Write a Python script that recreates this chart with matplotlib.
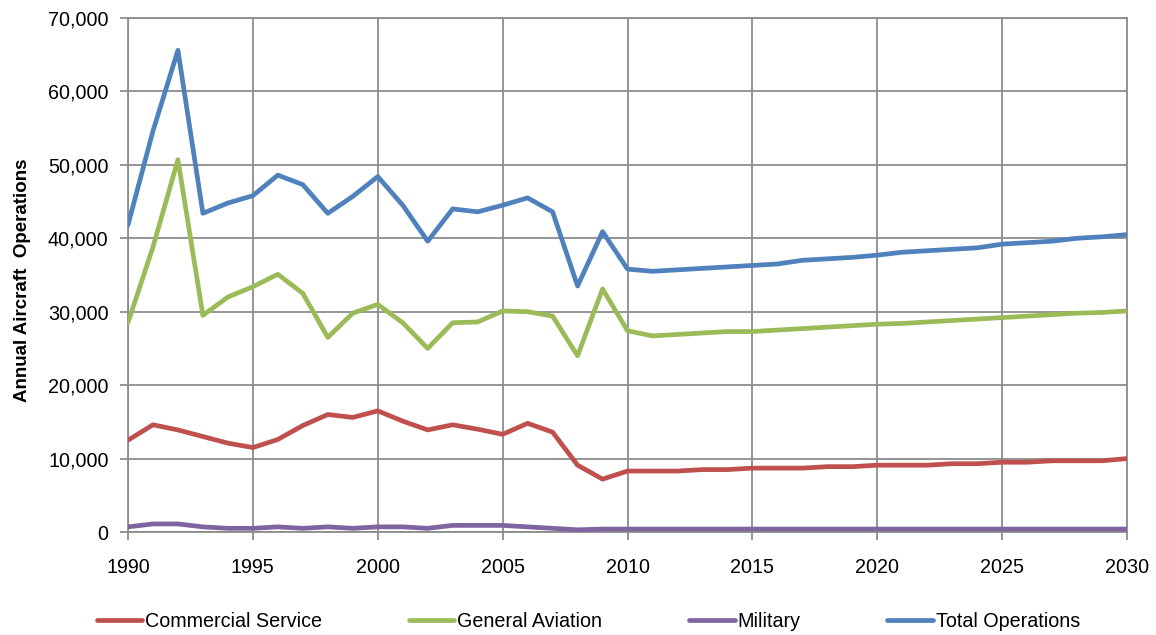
import matplotlib.pyplot as plt
from matplotlib.ticker import FuncFormatter, MultipleLocator

plt.rcParams['font.family'] = ['Liberation Sans', 'DejaVu Sans']

# annual operations, 1990-2030
years = list(range(1990, 2031))

commercial = [12500, 14600, 13900, 13000, 12100, 11500, 12600, 14500, 16000, 15600,
              16500, 15100, 13900, 14600, 14000, 13300, 14800, 13600, 9100, 7200,
              8300, 8300, 8300, 8500, 8500, 8700, 8700, 8700, 8900, 8900,
              9100, 9100, 9100, 9300, 9300, 9500, 9500, 9700, 9700, 9700, 10000]

general_aviation = [28500, 38800, 50700, 29500, 32000, 33400, 35100, 32500, 26500, 29800,
                    31000, 28500, 25000, 28500, 28600, 30100, 30000, 29400, 24000, 33100,
                    27400, 26700, 26900, 27100, 27300, 27300, 27500, 27700, 27900, 28100,
                    28300, 28400, 28600, 28800, 29000, 29200, 29400, 29600, 29800, 29900, 30100]

military = [700, 1100, 1100, 700, 500, 500, 700, 500, 700, 500,
            700, 700, 500, 900, 900, 900, 700, 500, 300, 400,
            400, 400, 400, 400, 400, 400, 400, 400, 400, 400,
            400, 400, 400, 400, 400, 400, 400, 400, 400, 400, 400]

total = [41800, 54600, 65600, 43400, 44800, 45800, 48600, 47300, 43400, 45700,
         48400, 44500, 39600, 44000, 43600, 44500, 45500, 43600, 33500, 40900,
         35800, 35500, 35700, 35900, 36100, 36300, 36500, 37000, 37200, 37400,
         37700, 38100, 38300, 38500, 38700, 39200, 39400, 39600, 40000, 40200, 40500]

series = [
    ('Commercial Service', commercial, '#C0504D'),
    ('General Aviation', general_aviation, '#9BBB59'),
    ('Military', military, '#8064A2'),
    ('Total Operations', total, '#4F81BD'),
]

fig = plt.figure(figsize=(11.56, 6.35), dpi=100)
ax = fig.add_axes([0.1107, 0.1622, 0.8643, 0.8095])

for name, vals, col in series:
    ax.plot(years, vals, color=col, lw=3.4, label=name, solid_capstyle='round', zorder=3)

ax.set_xlim(1990, 2030)
ax.set_ylim(0, 70000)
ax.xaxis.set_major_locator(MultipleLocator(5))
ax.yaxis.set_major_locator(MultipleLocator(10000))
ax.yaxis.set_major_formatter(FuncFormatter(lambda v, p: f'{int(v):,}'))

ax.grid(True, color='#8c8c8c', lw=1.3, zorder=1)
for s in ax.spines.values():
    s.set_color('#8c8c8c')
    s.set_linewidth(1.3)

ax.tick_params(axis='both', colors='#8c8c8c', labelcolor='black', labelsize=14.2,
               length=6, width=1.3, direction='out')
ax.tick_params(axis='x', pad=13)
ax.tick_params(axis='y', pad=8)

ax.set_ylabel('Annual Aircraft  Operations', fontsize=13.5, fontweight='bold')
ax.yaxis.set_label_coords(-0.097, 0.49)

fig.legend(loc='center', bbox_to_anchor=(0.509, 0.022), ncol=4, frameon=False,
           fontsize=14.2, handlelength=2.3, handletextpad=0.15, columnspacing=4.4)

fig.savefig('out.png', dpi=100)
